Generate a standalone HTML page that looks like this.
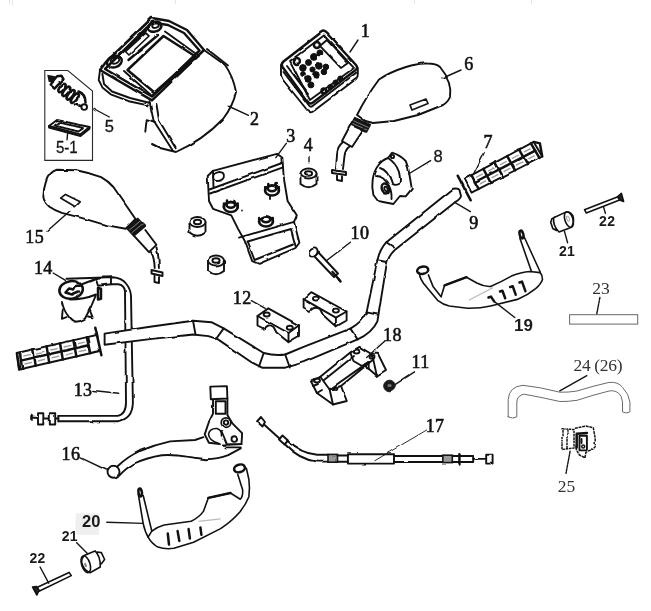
<!DOCTYPE html>
<html>
<head>
<meta charset="utf-8">
<title>Handlebar assembly diagram</title>
<style>
  html, body { margin: 0; padding: 0; background: #ffffff; }
  body { width: 651px; height: 611px; overflow: hidden; font-family: "Liberation Sans", sans-serif; }
  svg { display: block; }
  .ln { fill: none; stroke: #111; stroke-width: 1.9; stroke-linecap: round; stroke-linejoin: round; }
  .lnw { fill: #ffffff; stroke: #111; stroke-width: 1.9; stroke-linecap: round; stroke-linejoin: round; }
  .thin { fill: none; stroke: #151515; stroke-width: 1.7; stroke-linecap: round; stroke-linejoin: round; }
  .thk { fill: none; stroke: #111; stroke-width: 2.5; stroke-linecap: round; stroke-linejoin: round; }
  .gry { fill: none; stroke: #6a6a6a; stroke-width: 1; stroke-linecap: round; stroke-linejoin: round; }
  .ld { fill: none; stroke: #151515; stroke-width: 1.4; stroke-linecap: round; }
  .ser { font-family: "Liberation Serif", serif; font-size: 18px; fill: #111; stroke: #111; stroke-width: 0.6; letter-spacing: 0.4px; text-anchor: middle; }
  .sim { font-family: "Liberation Serif", serif; font-size: 17.5px; fill: #333; text-anchor: middle; }
  .san { font-family: "Liberation Sans", sans-serif; font-size: 16.5px; fill: #151515; stroke: #151515; stroke-width: 0.3; text-anchor: middle; }
  .bld { font-family: "Liberation Sans", sans-serif; font-weight: bold; fill: #1a1a1a; text-anchor: middle; }
  #clean .ln, #clean .lnw { stroke-width: 1.6; }
</style>
</head>
<body>
<svg width="651" height="611" viewBox="0 0 651 611">
<defs>
  <filter id="soft" x="-2%" y="-2%" width="104%" height="104%" color-interpolation-filters="sRGB">
    <feTurbulence type="fractalNoise" baseFrequency="0.07" numOctaves="2" seed="7" result="n"/>
    <feDisplacementMap in="SourceGraphic" in2="n" scale="2.4" xChannelSelector="R" yChannelSelector="G" result="d"/>
    <feGaussianBlur in="d" stdDeviation="0.5"/>
  </filter>
  <filter id="softt" x="-2%" y="-2%" width="104%" height="104%" color-interpolation-filters="sRGB"><feGaussianBlur stdDeviation="0.45"/></filter>
</defs>
<rect x="0" y="0" width="651" height="611" fill="#ffffff"/>
<path d="M9.500,0 V5 M12.500,0 V6 M175.500,0 V4 M414.500,0 V4 M531.500,0 V4" stroke="#e6e6e6" stroke-width="1" fill="none"/>

<g id="art" filter="url(#soft)">


<!-- ===== INSTRUMENT HOUSING (2) ===== -->
<g id="p2">
  <path class="ln" d="M204,50 L225,65 Q233,76 236,92 Q233,106 223,119 Q203,140 176,152 L160,148 L152.200,144.100"/>
  <path class="ln" d="M207,49 L228,65.500"/>
  <path class="thk" stroke-width="2.500" d="M152,18 L169,21 L187,30 L204,50 L152,100.300 L100,70 L106,62 Z"/>
  <path class="thk" stroke-width="2.100" d="M152,22.500 L168,25 L184,33 L199.500,50.500 L152,96.500 L105,69 Z"/>
  <path class="thk" stroke-width="3.300" d="M163.500,36 L195.500,56.500 L154.500,92.500 L127.500,70 Z"/>
  <path class="ln" d="M165,31.500 L199,56 L152,96 L124,71"/>
  <path class="thin" d="M125.400,51.500 L145.700,33 L149,36 L129,55 Z"/>
  <path class="thk" stroke-width="4" d="M128.500,60 L158,35"/>
  <path class="ln" d="M120,55 L147,30"/>
  <ellipse class="thk" cx="114.400" cy="61.600" rx="7.600" ry="5.600" transform="rotate(-20 114.400 61.600)" stroke-width="2"/>
  <ellipse class="ln" cx="115" cy="60.500" rx="4.400" ry="3" transform="rotate(-20 115 60.500)"/>
  <ellipse class="thk" cx="155" cy="26.600" rx="6.500" ry="5" transform="rotate(-20 155 26.600)" stroke-width="2.400"/>
  <ellipse class="ln" cx="155.500" cy="25.500" rx="3.400" ry="2.300" transform="rotate(-20 155.500 25.500)"/>
  <path class="ln" d="M100,70 L98.700,80 L102.400,87.400 L110.700,94.300 L128.700,101.200 L148,105.400"/>
  <path class="ln" d="M102.400,74 L104,84 L112,91.500 L130,98 L150,103"/>
  <path class="ln" d="M149.400,101.200 L153.600,120.600 L173,151 M156.400,104 L159.100,120.600 L175.700,148.200"/>
  <path class="ln" d="M146.700,119.200 L145.300,131.600 M146.700,119.200 L155,122 M152.200,144.100 L160,148"/>
</g>

<!-- ===== SWITCH (1) ===== -->
<g id="p1">
  <path class="thk" stroke-width="2.300" d="M321,32.500 Q324,30 327,33.500 L356,65 Q358.500,68 355,70.500 L313,102.500 Q310,105 307.500,101.500 L282.500,67 Q280.500,64 283.500,61.500 Z"/>
  <path class="ln" stroke-width="1.900" d="M281,65 L281,75 Q281.500,78 283,80 L307.500,110.500 Q310,113.500 313,111.500 L356,79 Q358,77 357.800,74 L357.800,68"/>
  <path class="ln" d="M283.500,72 L309,105.500 Q310.500,107.500 312.500,106 L356.500,72.500"/>
  <path class="ln" stroke-width="1.900" d="M290,60.900 L323.900,35.500 L353.900,67.900 L309.900,99.900 Z"/>
  <path class="ln" stroke-width="1.900" d="M326.900,40 L347.900,62.900 L340.900,67.900 L319.900,45.900 Z"/>
  <path class="ln" d="M287,66 L308,94 M292,72 L306,90"/>
  <g fill="#111" stroke="#111" stroke-width="1">
    <circle cx="313.900" cy="56.900" r="3.400"/><circle cx="302.900" cy="67.900" r="3.300"/><circle cx="319.900" cy="52.900" r="3"/>
    <circle cx="308.500" cy="62.500" r="3"/><circle cx="318.900" cy="65.900" r="3.300"/><circle cx="325.900" cy="66.900" r="2.800"/>
    <circle cx="307.900" cy="78.900" r="3.300"/><circle cx="315.900" cy="74.900" r="3.300"/><circle cx="323.900" cy="71.900" r="2.800"/>
    <circle cx="310.900" cy="84.900" r="3"/><circle cx="312.500" cy="69.500" r="2.600"/><circle cx="303" cy="74" r="2.400"/>
    <circle cx="330.300" cy="86.900" r="2.500"/><circle cx="335.500" cy="82.500" r="2.500"/><circle cx="340.300" cy="78.500" r="2.500"/>
  </g>
  <circle cx="316.900" cy="44.900" r="3" class="thk" stroke-width="2" fill="#fff"/>
  <circle cx="296.900" cy="60.900" r="3" class="thk" stroke-width="2" fill="#fff"/>
  <circle cx="323.900" cy="90.900" r="2.400" class="thk" stroke-width="1.600" fill="#fff"/>
</g>

<!-- ===== RIGHT MIRROR (6) ===== -->
<g id="p6">
  <path class="ln" d="M357,115 Q366,97 379,79.5 Q390,72 406,67 Q418,63 428,63.5 Q436,63.5 440,67 Q446,74 449,82 Q451,90 450,97 Q448,102 443,105 L418,115 L394,121 L373,123 L365.5,121 Z"/>
  <path class="thin" d="M410,105 L426,99 L428,103.5 L412,110 Z"/>
  <path d="M354.800,117.600 L370.400,124.600 L366.600,132 L350.600,125 Z" fill="#151515" stroke="#151515" stroke-width="1.500" stroke-linejoin="round"/><path d="M353.500,120.800 L368.500,127.500 M352.300,123.300 L367.300,130" stroke="#aaa" stroke-width="0.700" fill="none"/>
  <path class="ln" d="M352,122 L342,141 L352,147 L364,129"/>
  <path class="ln" d="M343,142 Q337,147 337,154 L336,169 M350,146 Q345,150 344.5,156 L343,169"/>
  <path class="ln" d="M332,170 L346,172 L346,175 L332,173 Z M337,174 L337,180 L342,181 L342,175"/>
</g>

<!-- ===== LEFT MIRROR (15) ===== -->
<g id="p15">
  <path class="ln" d="M56.9,169.8 L76.5,170.3 Q90,173 101.1,177.2 Q108,181 113.4,187 L135.5,219 L125.7,228.8 L106,225.1 L81.4,217.8 L61.8,212.8 Q54,210 49.5,206.7 Q44,202 43.3,196.9 Q43.5,189 45.8,182.1 Q47.5,176.5 50.7,173.5 Q53.5,170.5 56.9,169.8 Z"/>
  <path class="thin" d="M60.6,198.1 L65.5,194.4 L80.2,201.8 L75.3,206.7 Z"/>
  <path d="M126.300,227.800 L137.800,218.400 L145.300,226.300 L133.800,236 Z" fill="#151515" stroke="#151515" stroke-width="1.500" stroke-linejoin="round"/><path d="M129,230.300 L140.300,221 M131.500,233 L142.800,223.700" stroke="#aaa" stroke-width="0.700" fill="none"/>
  <path class="ln" d="M134.3,236.2 L149,252.2 L156.4,244.8 L145.3,230"/>
  <path class="ln" d="M151,252 Q154.5,258 154.7,268 M156.5,247.5 Q159,256 158.9,268"/>
  <path class="ln" d="M151.5,270 L162.5,272.5 L162.5,276 L151.5,273.5 Z M154.5,275 L154.5,282 L159,283 L159,276.5"/>
</g>

<!-- ===== BOX 5 / 5-1 ===== -->
<g id="p5">
  <path d="M48.500,76 L54,77 L53,82 L49.500,81 Z" fill="#151515" stroke="#151515" stroke-width="2"/>
  <path class="thk" stroke-width="2" d="M50.600,85.200 L54.500,88.600 L63.500,79.200 L61.400,75.700 L57,76.200 L53,81 Z"/>
  <g class="thk" stroke-width="3">
    <ellipse cx="62" cy="88" rx="2.300" ry="5" transform="rotate(38 62 88)"/>
    <ellipse cx="66.300" cy="91.400" rx="2.300" ry="5.600" transform="rotate(38 66.300 91.400)"/>
    <ellipse cx="70.600" cy="94.800" rx="2.300" ry="5.800" transform="rotate(38 70.600 94.800)"/>
    <ellipse cx="74.900" cy="98.200" rx="2.300" ry="5.800" transform="rotate(38 74.900 98.200)"/>
  </g>
  <path class="thk" stroke-width="1.800" d="M78.500,91.500 Q85.500,94 85.500,102.400 M76,104.500 L80.500,106"/>
  <circle cx="84.200" cy="107.100" r="2.800" class="lnw" stroke-width="2"/>
  <path class="ln" stroke-width="1.400" d="M49,126 L57,120 L89.500,127 L80.500,134.300 Z"/>
  <path class="ln" stroke-width="1.300" stroke-dasharray="4 1.200" d="M54.500,125.500 L59,122.500 L83.500,128 L78.500,131.500 Z"/>
  <path class="ln" stroke-width="1.300" d="M49,126 L49,127.500 L80.500,136 L89.500,128.700 L89.500,127"/>
</g>

<!-- ===== BRACKET (3) ===== -->
<g id="p3">
  <path class="ln" d="M207.7,176 L213,170.8 L277,153.8 L282.4,157.7 L283.7,177.4 L287.6,201 L296.8,215.3 L294,221.9 L299.4,242.8 L295.5,248 L258.8,263.8 L252.2,261.2 L244.4,240.2 L237.8,228.4 L231.3,215.3 L213,208.8 L209,201 Z"/>
  <path class="ln" stroke-width="1.900" d="M209.500,189.500 L282,163 M210,193.500 L283,167.300 M213,170.800 L213.500,188"/>
  <path class="ln" d="M239,237.6 L294,221.9 M247.5,241.5 L291,229 L295.5,246 M247.5,241.5 L254.5,260 L293,244.5"/>
  <ellipse class="ln" cx="218.5" cy="176" rx="5.5" ry="3.8" transform="rotate(-15 218.5 176)"/>
  <g class="thk" stroke-width="1.7">
    <ellipse cx="230.8" cy="207" rx="7" ry="5"/><ellipse cx="230.8" cy="204.8" rx="4.2" ry="2.9"/><path d="M224,203.5 L224,207.5 M237.7,203.5 L237.7,207.5 M227,200.5 L227,203 M234.5,200.5 L234.5,203"/>
    <ellipse cx="272" cy="190.5" rx="7" ry="5"/><ellipse cx="272" cy="188.3" rx="4.2" ry="2.9"/><path d="M265.2,187 L265.2,191 M278.8,187 L278.8,191 M268.3,184 L268.3,186.5 M275.7,184 L275.7,186.5"/>
    <ellipse cx="266" cy="221.5" rx="7" ry="5"/><ellipse cx="266" cy="219.3" rx="4.2" ry="2.9"/><path d="M259.2,218 L259.2,222 M272.800,218 L272.8,222"/>
  </g>
  <circle cx="242" cy="210.500" r="1" fill="#333"/>
  <path class="ln" d="M270,196 L270,199"/>
</g>

<!-- ===== SPACERS (4) ===== -->
<g id="p4" class="lnw">
  <path d="M300.500,173.500 L300.500,184 Q308.500,190.500 316.500,184 L316.500,173.500"/><ellipse cx="308.500" cy="173.500" rx="8" ry="5"/><ellipse cx="308.500" cy="173.500" rx="3.600" ry="2.300"/>
  <path d="M189.500,222 L189.500,232.500 Q197.500,239 205.500,232.500 L205.500,222"/><ellipse cx="197.500" cy="222" rx="8" ry="5"/><ellipse cx="197.500" cy="222" rx="3.600" ry="2.300"/>
  <path d="M208,260.500 L208,271 Q216,277.500 224,271 L224,260.500"/><ellipse cx="216" cy="260.500" rx="8" ry="5"/><ellipse cx="216" cy="260.500" rx="3.600" ry="2.300"/>
</g>

<!-- ===== BOLT (10) ===== -->
<g id="p10">
  <path class="lnw" d="M314.500,256.500 L334,277 L338,273.500 L318.500,252.500 Z"/>
  <ellipse class="lnw" cx="313.200" cy="252.600" rx="4.600" ry="3.600" transform="rotate(-40 313.200 252.600)" stroke-width="1.900"/>
  <path class="thk" d="M332.500,272 L339,279.500" stroke-width="4.200" stroke-linecap="butt"/>
  <path class="thk" d="M339,279.500 L340.500,281.500" stroke-width="2"/>
</g>

<!-- ===== CLAMPS (12) ===== -->
<g id="p12" class="ln" stroke-width="1.900">
  <path d="M257.500,316 L268.300,308.400 L299,325.300 L288.500,333 Z"/>
  <path d="M257.500,316 L257.500,325.500 L264.500,329 Q268,323 273.500,327 L276.500,332.500 L288.500,342.200 L288.500,333 M288.500,342.200 L299,336 L299,325.300"/>
  <ellipse cx="266.700" cy="314.500" rx="3" ry="2"/><ellipse cx="289.800" cy="327.800" rx="3" ry="2"/>
  <path d="M303.600,299.200 L311.300,292.100 L346.600,311.500 L335.900,317.600 Z"/>
  <path d="M303.600,299.200 L303.600,307.500 L310,311 Q314,305.500 320,309 L323,315 L335.900,326.600 L335.900,317.600 M335.900,326.600 L346.600,320.500 L346.600,311.500"/>
  <ellipse cx="315.900" cy="298.600" rx="3" ry="2"/><ellipse cx="335.900" cy="310.600" rx="3" ry="2"/>
</g>

<!-- ===== LOWER CLAMP (18) ===== -->
<g id="p18" class="ln" stroke-width="2">
  <path d="M311.100,381.500 L320.300,376.800 L350.300,352.600 L359.500,346.900 L371,353.800 L378,353.800 L386,370 L376.800,375.700 L368.700,368.800"/>
  <path d="M311.100,381.500 L316.900,393 L325,398.700 L333,404.500 L346.800,401 L341,386 L329.600,389.500 L320.300,376.800"/>
  <path d="M329.600,389.500 L333,404.500 M329.600,389.500 L368.700,361.900 M341,386 L373.300,359.600 M324,380 L354,356"/>
  <path d="M350.300,352.600 L353.500,361 L362,366 L368.700,361.900 L368.700,368.800 M371,353.800 L373.300,359.600 L376.800,375.700 M362,366 L368.700,368.800"/>
  <ellipse cx="317" cy="380.500" rx="3" ry="2"/><ellipse cx="356.500" cy="351.500" rx="3" ry="2"/><ellipse cx="335" cy="388.500" rx="2.500" ry="1.600"/><ellipse cx="372" cy="357" rx="2.500" ry="1.600"/>
  <path d="M313,386 L318,384 M316.900,393 L322,390"/>
</g>

<!-- ===== NUT (11) ===== -->
<circle cx="389.500" cy="386" r="5.800" fill="#1a1a1a" stroke="#1a1a1a" stroke-width="1"/>
<circle cx="389" cy="385.500" r="1.600" fill="#777"/>

<!-- ===== THROTTLE HOUSING (8) ===== -->
<g id="p8">
  <path class="ln" d="M392,152.700 Q400,155 405.700,161 Q408.500,167 409.500,175 L411.800,188.800 L405.700,196.400 L400,196 L393.400,204 L378,201 L373.400,195 Q371.500,187 372.700,179.500 Q374,171 378,165.700 Q382,160 388,158 Z"/>
  <path class="ln" d="M388,158 Q396,163 399,172 Q401,181 399,184 Q395,186 392,183.500 M380,168 Q388,170 392,183.500 M376,176 Q384,176 389,186 Q392,192 391.500,199"/>
  <ellipse class="thk" cx="385.500" cy="188.500" rx="3.600" ry="5.200" transform="rotate(-20 385.500 188.500)" stroke-width="1.600"/>
  <ellipse class="ln" cx="386" cy="189" rx="1.500" ry="2.400" transform="rotate(-20 386 189)"/>
  <circle class="ln" cx="392.500" cy="156.500" r="1.600"/>
</g>

<!-- ===== RIGHT GRIP (7) ===== -->
<g id="p7">
  <path class="thk" d="M457.700,175.700 L470.700,200.300" stroke-width="2.900"/>
  <path class="lnw" stroke-width="2.100" d="M464.6,178.8 L533.7,141.9 L542.2,156.5 L471.5,192.6 Z"/>
  <path class="thk" stroke-width="2.300" d="M475.0,182.0 L535.2,150.7"/>
  <path class="thk" stroke-width="1.700" d="M471.5,175.1 L478.6,189.0 M483.4,168.8 L490.7,182.8 M495.3,162.4 L502.9,176.6 M507.2,156.1 L515.1,170.4 M519.1,149.7 L527.2,164.2 M530.9,143.4 L539.4,157.9"/>
  <path d="M476.0,177.5 L482.7,173.9 M479.5,184.1 L486.2,180.6 M488.0,171.2 L494.7,167.6 M491.6,177.9 L498.3,174.4 M500.0,164.9 L506.7,161.3 M503.6,171.7 L510.4,168.2 M511.9,158.5 L518.6,155.0 M515.7,165.4 L522.5,161.9 M523.9,152.2 L530.6,148.7 M527.8,159.2 L534.6,155.7" fill="none" stroke="#9a9a9a" stroke-width="1.300"/>
  <path class="thk" stroke-width="2.800" d="M533.700,141.900 L539.900,143.400 L542.200,156.500"/>
</g>

<!-- ===== LEFT GRIP ===== -->
<g id="pLG">
  <path class="thk" d="M95.300,327.700 L101.400,355.300" stroke-width="2.600"/>
  <path class="lnw" stroke-width="2.100" d="M16.9,353.0 L88.3,336.9 L91.4,353.0 L19.2,369.5 Z"/>
  <path class="ln" stroke-width="1.600" d="M88.300,336.900 L95.600,335.300 M91.400,353 L99.600,351"/>
  <path class="thk" stroke-width="2.300" d="M20.9,360.6 L88.4,345.3"/>
  <path class="thk" stroke-width="1.700" d="M19.8,352.4 L22.1,368.8 M33.2,349.3 L35.7,365.7 M46.6,346.3 L49.2,362.6 M60.0,343.3 L62.8,359.5 M73.4,340.2 L76.4,356.4 M86.9,337.2 L90.0,353.3"/>
  <path d="M23.3,356.1 L30.9,354.4 M24.5,364.0 L32.1,362.3 M36.8,353.1 L44.4,351.4 M38.0,361.0 L45.6,359.2 M50.3,350.0 L57.8,348.3 M51.6,357.9 L59.1,356.1 M63.7,347.0 L71.3,345.3 M65.1,354.8 L72.7,353.1 M77.2,343.9 L84.7,342.2 M78.6,351.7 L86.2,350.0" fill="none" stroke="#9a9a9a" stroke-width="1.300"/>
  <path class="thk" stroke-width="2.600" d="M16.900,353 L19.200,369.500"/>
</g>

<!-- ===== LEFT SWITCH (14) + CABLE (13) ===== -->
<g id="p14">
  <path class="ln" d="M66.500,278.800 L112.600,277.300 Q121.800,278 126,283.500 Q130.500,289 131,295.700 L132.900,402.600 Q132.500,419.500 117.500,421.300 L58.400,421.300 M111,284.200 L118.500,284.200 Q124.900,285.500 125,291.900 L126,402.600 Q126,414.500 117.500,415.900 L58.400,415.900"/>
  <ellipse class="thk" stroke-width="2.800" cx="71.100" cy="289.900" rx="11.800" ry="8.800" transform="rotate(-8 71.100 289.900)"/>
  <path class="thk" stroke-width="2.300" d="M65.500,292.500 L69,288.500 L74,289.500 L76,286 L81.500,285.500 M65.500,292.500 L72,294.500 L79,291.500"/>
  <path class="ln" stroke-width="1.900" d="M95.700,278.800 L111,278 L111,284.200 L98,285.700 Z M82.500,284 L95.700,279"/>
  <path class="thk" stroke-width="1.900" d="M98,288 L101,288.800 L101,298.800 L98,299.500 Z"/>
  <path class="ln" stroke-width="2.100" d="M61.900,301.900 Q64,311 68,315.700 Q71,321 75.700,321.800 Q81,321.500 84.900,318.800 L91.100,306.500 L95.700,295.700 M70,299.500 Q84,299.500 96,294.500"/>
  <path class="ln" stroke-width="2" d="M62.700,309.500 L61.900,318.800 L66.500,317.200 M89.500,309.500 L92.600,317.200 L88,316.500"/>
  <path class="ln" d="M58.400,415.900 L58.400,421.300 M31.500,417.500 L38,418 M43.300,418.500 L49.800,418.500 M55.200,418.500 L58.400,418.500"/>
  <path class="lnw" d="M38,413.300 L43.300,413.300 L43.300,424.500 L38,424.500 Z M49.800,413.300 L55.200,413.300 L55.200,424.500 L49.800,424.500 Z"/>
  <path class="thk" d="M31.500,416 L31.500,420" stroke-width="1.600"/>
</g>

<!-- ===== HANDLEBAR (9) ===== -->
<g id="handlebar" class="lnw">
  <path d="M104.6,333.6 L150,326.8 L193,320.7 L211.4,322.2 L223.7,328.4 L263.7,353 Q275,356 285.2,354.5 L303.6,346.8 L350.4,328.6 Q362,322 366.6,312.4 L377.4,260.2 Q380,249 386.4,242.2 L453,188.800 Q458,187.800 459.400,189.800 L461,196 Q461,198.500 454.700,202.400 L395.400,249.400 Q388,256 386.4,265.6 L377.4,321.4 Q372,333 357.6,339.4 L303.6,362.2 L285.2,367.7 L262.1,367.7 L251.4,362.2 L217.6,339.1 L208.4,336.1 L193,334.5 L150,339.1 L104.6,344.7 Z"/>
  <path d="M193,320.7 L195.5,334.5 M223.7,328.4 L216,339 M263.7,353 L259,366.5 M285.2,354.5 L289.8,367.5 M350.4,328.6 L357.6,339.4 M366.6,312.4 L377.4,314.5 M377.4,260.2 L386.4,262 M386.4,242.2 L394,247.5"/>
</g>

<!-- ===== LEVER (16) ===== -->
<g id="p16" class="ln">
  <circle cx="113.500" cy="471.800" r="6"/>
  <path d="M117.600,466.200 Q127,457 139.800,451 Q154,445 170.200,441.400 L195,440 L203.400,437.200 M119,475.900 Q125,469 134.200,463.500 Q147,457.500 161.900,455.200 Q174,454.500 186.800,456.600 L206.100,459.300 Q218,459 228.200,455.200 L240.700,448.300"/>
  <path d="M210.300,386.600 L226.900,386.100 L227.400,398.500 L210.800,399.300 Z"/>
  <path d="M213,399.900 L213,413.700 L208.900,422 L204.700,434.400 L208.900,442.700 L219.900,444.100 M227.400,398.500 L227.400,415.100 L232.400,423.400 L242.100,433.100 L241.500,444.100 L222.700,444.700"/>
  <path d="M215.800,401.300 L225.500,401.300 L225.500,413.700 L215.800,413.700 Z"/>
  <circle cx="226" cy="422.600" r="4.800" stroke-width="1.700"/><circle cx="226" cy="422.600" r="2.200"/>
  <circle cx="234.300" cy="439.100" r="2.800"/>
  <path d="M219,443.500 Q209,441 208.500,434 Q210,428 217,428.500 Q222,430 221.500,436" stroke-width="1.600"/>
  <path d="M221.500,431 L226.500,443 M222.700,444.700 L241.500,444.100" stroke-width="1.800"/>
  <path d="M225.500,447.400 L240.700,447.400"/>
</g>

<!-- ===== CABLE (17) ===== -->
<g id="p17">
  <path class="lnw" d="M257,421.500 L261,417 L265,422 L262.500,426.500 Z" stroke-width="1.800"/>
  <path class="ln" stroke-width="2.300" d="M264,424.500 L279.500,438.500"/>
  <path class="lnw" d="M279,439.500 L282.500,435.500 L288,440.500 L284.500,444.500 Z" stroke-width="1.700"/>
  <path class="ln" stroke-width="1.800" d="M287,440.500 Q301,453.500 317,454.800 L328,454.800 M284.500,444 Q299,459.500 317,461.600 L328,461.600"/>
  <rect x="328" y="454.400" width="9.500" height="7.800" fill="#999" stroke="#151515" stroke-width="1.600"/>
  <path class="ln" stroke-width="1.800" d="M337.500,455.500 L347.900,455.500 M337.500,461.800 L347.900,461.800 M394,456 L442.800,456 M394,462 L442.800,462"/>
  <rect class="ln" stroke-width="1.800" x="347.900" y="454.200" width="46.100" height="9.400"/>
  <rect x="442.800" y="455.200" width="9.500" height="7.400" fill="#999" stroke="#151515" stroke-width="1.600"/>
  <path class="ln" stroke-width="1.800" d="M452.500,456 L473.200,456 L473.200,462 L452.500,462"/>
  <path class="thk" d="M459.400,454.200 L459.400,463.500" stroke-width="2.800"/>
  <path class="ln" stroke-width="1.900" d="M473.200,458.900 L486,458.900"/>
  <rect class="lnw" stroke-width="1.900" x="486.200" y="454.800" width="6.400" height="8.800"/>
</g>

<!-- ===== HAND GUARD (20) ===== -->

<!-- ===== HAND GUARD (19) ===== -->

<!-- ===== BAR END (21) lower-left ===== -->
<!-- ===== BOLT (22) lower-left ===== -->

<!-- ===== BAR END (21) upper-right ===== -->
<!-- ===== BOLT (22) upper-right ===== -->

<!-- ===== PLATE (23) ===== -->

<!-- ===== TUBE (24/26) ===== -->

<!-- ===== CLIP (25) ===== -->

<g id="p25">
  <path d="M562,428.800 L574,429.500 L574,448 L562,449.500 Z M567,429.200 L567,448.600" fill="none" stroke="#1a1a1a" stroke-width="1.500" stroke-dasharray="2.600 0.700" stroke-linejoin="round"/>
  <path d="M574.900,428.300 L585.900,426 L593.300,427.800 L595.200,438.400 L595.200,446.700 L590.600,451.300 L585.900,452.300 L585,457.800 L579.500,455 L576.700,450.400 L575.300,445.800" fill="none" stroke="#1a1a1a" stroke-width="1.500" stroke-dasharray="3 0.700" stroke-linejoin="round"/>
  <path class="thk" stroke-width="2.200" d="M586.900,432.900 L576.700,433.800 L576.700,447.600"/>
  <path class="ln" stroke-width="1.500" d="M579.500,435.700 L586.900,435.700 L586.900,450.400 L579.500,450.400 Z"/>
  <circle cx="583.200" cy="446.500" r="2.200" fill="#1a1a1a"/>
  <circle cx="583.200" cy="446.500" r="0.800" fill="#ddd"/>
  <path class="ln" stroke-width="1.300" d="M581.500,439 L581.500,443"/>
</g>

<!-- ===== LEADERS ===== -->
<g id="leaders" class="ld">
  <path d="M358,40 L350,52"/>
  <path d="M228.200,106 L248.500,115.300"/>
  <path d="M286.300,143.300 L275.800,157.700"/>
  <path d="M309,156.400 L309,161.700"/>
  <path d="M92.500,108 L109.300,117"/>
  <path d="M67.800,131.600 L67,139.700"/>
  <path d="M461,70 L443,78"/>
  <path d="M484.200,152.600 L474,173"/>
  <path d="M430.600,160.600 L408.500,174"/>
  <path d="M454.700,202.400 L470.400,211.600"/>
  <path d="M350.400,242.200 L327,260.200"/>
  <path d="M414.500,371.800 L395.400,384.400"/>
  <path d="M251.400,300.700 L265.200,308.400"/>
  <path d="M92.800,390.500 L118.600,393.300"/>
  <path d="M53.200,273 L65.500,280.400"/>
  <path d="M47,231.300 L70.400,210.400"/>
  <path d="M81,457.800 L106.400,470"/>
  <path d="M426.700,430 L374.800,460.700" stroke-width="0.9"/>
  <path d="M384.600,341.200 L366.600,357.400"/>
</g>

</g>

<g id="clean" filter="url(#softt)">
  <path d="M44.800,70.500 L67.800,70.500 L92.500,91 L92.500,160.400 L44.800,160.400 Z" fill="none" stroke="#2a2a2a" stroke-width="1.100"/>
<g id="p20">
  <path class="ln" d="M138.300,494.200 L143.200,523.700 Q145,532 148.100,537.200 Q152,544 157.900,547.100 Q165,549.500 173.900,548.300 L193.600,542.200 L220.600,528.600 Q232,521 240.300,511.400 Q246,504 248.900,496.700 Q250,488 248.900,479.500 L246.400,468.400"/>
  <path class="ln" d="M143.200,495.500 L151.800,531.100 Q157,527 164.100,525 L191.100,521.300 Q199,517.500 203.400,511.400 L208.300,497.900 L230.400,493 L240.300,499.200 Q243,497 242.700,490 L237.800,474.600"/>
  <path class="thk" d="M208.300,497.900 L230.400,493" stroke-width="2.400"/>
  <ellipse class="thk" cx="140.200" cy="492.500" rx="1.700" ry="4" transform="rotate(-8 140.200 492.500)" stroke-width="2.200"/>
  <ellipse class="thk" cx="239.500" cy="468.400" rx="5.500" ry="3.800" transform="rotate(-15 239.500 468.400)" stroke-width="2"/>
  <path class="thk" stroke-width="1.500" d="M167.800,533.600 L169,544.600 M177.600,531.100 L179.300,540.900 M188.600,529.100 L189.900,538.500 M200.400,527.400 L201.400,534.800"/>
  <path d="M198.500,521.300 L220.600,518.800" stroke="#bbb" stroke-width="1.200" fill="none"/>
  <path class="ln" d="M148.100,537.200 L151.800,531.100"/>
</g>
<g id="p19">
  <path class="ln" d="M419.200,272.600 Q420,280 426.100,286.400 L437.600,300.300 Q443,304.500 449.200,306 L467.600,308.300 Q480,308.500 490.600,306 L518.300,299.100 Q528,295 535.600,288.700 Q541,284 542.500,279.500 Q542.500,275 540.200,272.600"/>
  <path class="ln" d="M428.400,274.900 L433,286.400 L441.100,296.800 L444.600,285.300 L466.500,277.200 L476.800,283 Q484,286.800 490.600,286.400 Q501,282 511.400,276.100 Q521,272 529.800,271.500 L540.200,272.600"/>
  <path class="thk" d="M444.600,285.300 L466.500,277.200" stroke-width="2.400"/>
  <ellipse class="thk" cx="422.700" cy="270.300" rx="5.600" ry="3.600" transform="rotate(-12 422.700 270.300)" stroke-width="2"/>
  <path class="ln" d="M519.800,238 L531.500,271.500 M524.200,237 L540.200,272"/>
  <ellipse class="thk" cx="521.500" cy="234.500" rx="1.800" ry="4" transform="rotate(-15 521.500 234.500)" stroke-width="2.200"/>
  <path class="thk" stroke-width="1.400" d="M488.500,297.500 L491,296.600 L494.100,301.400 M500,291.500 L502.400,290.800 L505.200,298.300 M510.200,287 L512.700,286.200 L515.700,294.700 M519.500,282.500 L522,281.600 L525.400,291.200"/>
  <path d="M468.800,300.300 L493,287.600" stroke="#bbb" stroke-width="1.200" fill="none"/>
</g>
<g id="p21a">
  <path class="lnw" d="M97.100,552 L101.400,552.600 L104.600,559.500 L101.400,563.800 L98,565 Z"/>
  <path class="lnw" d="M84.200,555.600 L95,550.900 Q100.500,556 100.300,567 L90,572.800 Q83,570 81.600,562 Q81.600,558 84.200,555.600 Z"/>
  <ellipse class="ln" cx="85.800" cy="564.200" rx="4.200" ry="8.700" transform="rotate(-18 85.800 564.200)"/>
  <ellipse cx="85.500" cy="565" rx="1.200" ry="2.400" fill="#888" transform="rotate(-18 85.500 565)"/>
</g>
<g id="p22a">
  <path class="ln" d="M35.800,587.900 L69.100,572.400 L71.300,575.600 L38,591.800"/>
  <path class="lnw" d="M32.600,587 L36.900,595 L39,590 L36.500,586.500 Z" style="fill:#222"/>
</g>
<g id="p21b">
  <path class="lnw" d="M555.500,217 L551.900,218.700 L550.700,222.200 L552.800,228.500 L556.500,230.500 Z"/>
  <path class="lnw" d="M566.200,211.900 L553.700,217.800 Q552.500,225 559,232 L571.500,227.200 Q574.500,222 573,216 Q570,211.500 566.200,211.900 Z"/>
  <ellipse class="ln" cx="568.900" cy="219.500" rx="4" ry="8" transform="rotate(-18 568.900 219.500)"/>
  <ellipse cx="568" cy="218.700" rx="1.300" ry="2.800" fill="none" stroke="#999" stroke-width="0.900" transform="rotate(-18 568 218.700)"/>
</g>
<g id="p22b">
  <path class="ln" d="M617.900,196.700 L584.500,209.700 L586.300,213 L619.600,200"/>
  <path class="lnw" d="M617.500,196.800 L621.400,193.400 L623.600,201.400 L619.600,200 Z" style="fill:#222"/>
</g>
<g id="p24" class="gry" stroke="#555">
  <path d="M508.200,416.800 L508.200,399.600 Q509,386.500 523,385.300 Q540,387 559.800,392.200 Q568,392.500 577,391 Q593,386 609,382.400 Q618,381.500 622.500,387.300 Q629,394 629.900,402 L629.900,411.900 Q626,414 622.500,411.900 L622.500,402 Q622,396 618.800,393.400 Q615,390 609,391 Q593,395 577,400.300 Q568,401.700 559.800,401.500 Q540,397 524.200,394.200 Q517,395.500 516.800,402 L516.800,416.800 Q512.500,419.500 508.200,416.800 Z"/>
</g>
<rect x="569.600" y="314.700" width="68.100" height="9.400" fill="none" stroke="#666" stroke-width="1"/>
<g class="ld">
  <path d="M494.100,301.400 L514.800,317.500"/>
  <path d="M106.800,522.300 L143.300,523.400"/>
  <path d="M76.700,542.700 L87.400,553.500"/>
  <path d="M40.100,567 L48.700,583.200"/>
  <path d="M564.400,231.100 L567.600,242.700"/>
  <path d="M603.600,207.100 L605.400,213.300"/>
  <path d="M599.900,297.500 L596.700,314.200" stroke-dasharray="2.500 1"/>
  <path d="M586.800,375.700 L559.800,390.900"/>
  <path d="M570.100,451.200 L566,473.300" stroke-dasharray="2.500 1"/>
</g>
</g>

<!-- ===== LABELS ===== -->
<g id="labels" filter="url(#softt)">
  <rect x="75.600" y="513.300" width="23.600" height="21.500" fill="#efefef"/>
  <text class="ser" x="365.400" y="36.800" font-size="18.500">1</text>
  <text class="ser" x="254.800" y="125">2</text>
  <text class="ser" x="291" y="142">3</text>
  <text class="ser" x="308.500" y="150.500">4</text>
  <text class="san" x="109.300" y="132">5</text>
  <text class="san" x="66.800" y="153.300" textLength="21.800" lengthAdjust="spacingAndGlyphs">5-1</text>
  <text class="ser" x="469" y="69.500">6</text>
  <text class="ser" x="488.300" y="147.500">7</text>
  <text class="san" x="438" y="161.500">8</text>
  <text class="ser" x="474" y="228.500">9</text>
  <text class="ser" x="360" y="238.500">10</text>
  <text class="ser" x="420.600" y="368">11</text>
  <text class="ser" x="242.200" y="303.500">12</text>
  <text class="ser" x="83.100" y="396">13</text>
  <text class="ser" x="43.300" y="274">14</text>
  <text class="ser" x="34.700" y="242.500">15</text>
  <text class="ser" x="71" y="460.300">16</text>
  <text class="ser" x="435.100" y="432">17</text>
  <text class="ser" x="392.500" y="341">18</text>
  <text class="bld" x="523.500" y="330.500" font-size="17">19</text>
  <text class="bld" x="91.300" y="526.600" font-size="16.500">20</text>
  <text class="bld" x="69.800" y="540.600" font-size="14" letter-spacing="0.3">21</text>
  <text class="bld" x="37.500" y="563.300" font-size="14" letter-spacing="0.3">22</text>
  <text class="bld" x="567.100" y="256.200" font-size="14" letter-spacing="0.3">21</text>
  <text class="bld" x="607.200" y="225.700" font-size="14" letter-spacing="0.3">22</text>
  <text class="sim" x="600.900" y="294">23</text>
  <text class="sim" x="598" y="370.500" textLength="49" lengthAdjust="spacing">24 (26)</text>
  <text class="sim" x="566.400" y="491.500">25</text>
</g>
</svg>
</body>
</html>
